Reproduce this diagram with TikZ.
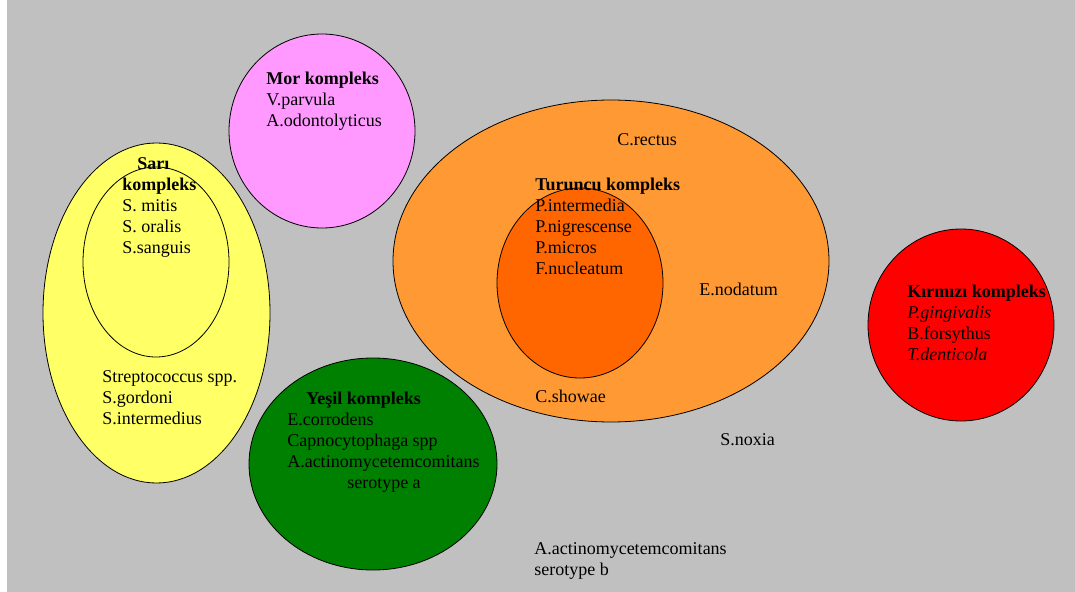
\documentclass[tikz,border=0pt]{standalone}
\usepackage{fontspec}
\setmainfont{Liberation Serif}
\definecolor{bggray}{HTML}{C0C0C0}
\definecolor{sariyellow}{HTML}{FFFF66}
\definecolor{morpink}{HTML}{FF99FF}
\definecolor{turuncuorange}{HTML}{FF9933}
\definecolor{koyuorange}{HTML}{FF6600}
\definecolor{kirmizired}{HTML}{FF0000}
\definecolor{yesilgreen}{HTML}{008000}
\begin{document}
\begin{tikzpicture}[x=0.75pt,y=0.75pt,yscale=-1,xscale=1,
  txt/.style={anchor=north west,inner sep=0pt,align=left,font=\fontsize{13.5}{15.75}\selectfont},
  blob/.style={draw=black,line width=0.6pt}]
\useasboundingbox (0,0) rectangle (1075,592);
%background
\fill[bggray] (7,0) rectangle (1075,592);

%Sari kompleks [outer and inner]
\draw[blob,fill=sariyellow] (156.5,313) ellipse [x radius=113.5, y radius=170];
\draw[blob] (156,262) ellipse [x radius=73, y radius=95];
%Mor kompleks
\draw[blob,fill=morpink] (322,131) ellipse [x radius=93, y radius=97];
%Turuncu kompleks [outer and inner]
\draw[blob,fill=turuncuorange] (611,261) ellipse [x radius=218, y radius=161];
\draw[blob,fill=koyuorange] (580,283) ellipse [x radius=83, y radius=95];
%Kirmizi kompleks
\draw[blob,fill=kirmizired] (961,325) ellipse [x radius=93, y radius=96];
%Yesil kompleks
\draw[blob,fill=yesilgreen] (373,464) ellipse [x radius=124, y radius=106];

% Text Node
\node[txt] (mor) at (266,72) {\textbf{Mor kompleks}\\V.parvula\\A.odontolyticus};
% Text Node
\node[txt] (sari) at (122,157) {\hspace*{11.25pt}\textbf{Sarı}\\\textbf{kompleks}\\S. mitis\\S. oralis\\S.sanguis};
% Text Node
\node[txt] (strep) at (102,370) {Streptococcus spp.\\S.gordoni\\S.intermedius};
% Text Node
\node[txt] (turuncu) at (535,178) {\textbf{Turuncu kompleks}\\P.intermedia\\P.nigrescense\\P.micros\\F.nucleatum};
% Text Node
\node[txt] (crectus) at (617,133) {C.rectus};
% Text Node
\node[txt] (enodatum) at (699,283) {E.nodatum};
% Text Node
\node[txt] (cshowae) at (535,390) {C.showae};
% Text Node
\node[txt] (kirmizi) at (907,285) {\textbf{Kırmızı kompleks}\\\textit{P.gingivalis}\\B.forsythus\\\textit{T.denticola}};
% Text Node
\node[txt] (yesil) at (287,392) {\hspace*{14.25pt}\textbf{Yeşil kompleks}\\E.corrodens\\Capnocytophaga spp\\A.actinomycetemcomitans\\\hspace*{45pt}serotype a};
% Text Node
\node[txt] (snoxia) at (720,433) {S.noxia};
% Text Node
\node[txt] (aactb) at (534,542) {A.actinomycetemcomitans\\serotype b};

\end{tikzpicture}
\end{document}
